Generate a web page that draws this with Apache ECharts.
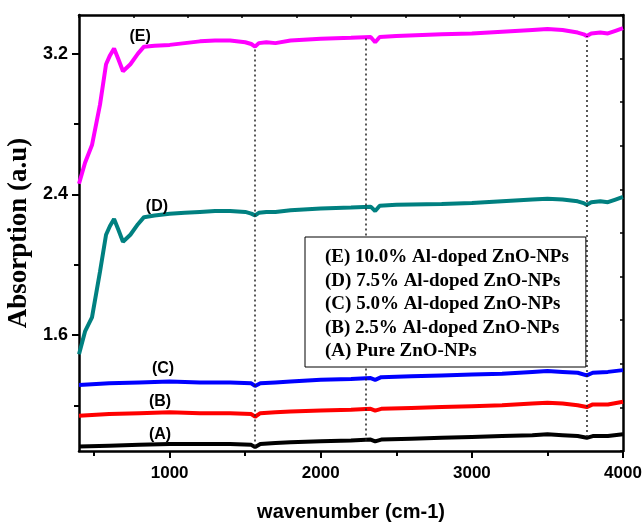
<!DOCTYPE html>
<html>
<head>
<meta charset="utf-8">
<script src="https://cdn.jsdelivr.net/npm/echarts@6/dist/echarts.min.js"></script>
<style>
  html, body { margin: 0; padding: 0; background: #fff; }
  #chart { width: 644px; height: 524px; }
</style>
</head>
<body>
<div id="chart"></div>
<script>
// wavenumber grid for the two upper curves (E, D)
var xHigh = [400, 440, 486, 539, 579, 605, 632, 660, 691, 740, 790, 830, 900, 1000, 1100, 1200, 1300, 1400, 1500, 1540, 1565, 1590, 1640, 1700, 1800, 2000, 2200, 2330, 2360, 2390, 2500, 2800, 3000, 3200, 3400, 3500, 3600, 3700, 3740, 3760, 3790, 3850, 3900, 3950, 4000];
var yE = [2.46, 2.58, 2.68, 2.91, 3.14, 3.19, 3.23, 3.17, 3.10, 3.14, 3.20, 3.24, 3.245, 3.25, 3.26, 3.27, 3.275, 3.275, 3.265, 3.255, 3.24, 3.26, 3.265, 3.26, 3.275, 3.285, 3.29, 3.295, 3.265, 3.295, 3.30, 3.31, 3.315, 3.325, 3.335, 3.34, 3.335, 3.32, 3.31, 3.30, 3.315, 3.32, 3.315, 3.33, 3.345];
var yD = [1.49, 1.62, 1.70, 1.96, 2.17, 2.22, 2.26, 2.20, 2.13, 2.17, 2.23, 2.27, 2.28, 2.29, 2.295, 2.30, 2.305, 2.305, 2.30, 2.29, 2.28, 2.295, 2.30, 2.30, 2.31, 2.32, 2.325, 2.33, 2.305, 2.335, 2.34, 2.345, 2.35, 2.36, 2.37, 2.375, 2.37, 2.36, 2.35, 2.34, 2.355, 2.36, 2.355, 2.37, 2.385];

// wavenumber grid for the three lower curves (C, B, A)
var xLow = [400, 600, 800, 1000, 1200, 1400, 1540, 1565, 1600, 1700, 1800, 2000, 2200, 2330, 2360, 2400, 2600, 2800, 3000, 3200, 3400, 3500, 3600, 3700, 3760, 3800, 3900, 4000];
var yC = [1.315, 1.325, 1.33, 1.335, 1.33, 1.33, 1.325, 1.31, 1.325, 1.33, 1.335, 1.345, 1.35, 1.355, 1.345, 1.36, 1.365, 1.37, 1.375, 1.38, 1.39, 1.395, 1.39, 1.385, 1.37, 1.385, 1.39, 1.40];
var yB = [1.14, 1.15, 1.155, 1.16, 1.155, 1.155, 1.15, 1.135, 1.155, 1.16, 1.165, 1.17, 1.175, 1.18, 1.17, 1.18, 1.185, 1.19, 1.195, 1.20, 1.21, 1.215, 1.21, 1.20, 1.19, 1.205, 1.205, 1.22];
var yA = [0.965, 0.97, 0.975, 0.98, 0.98, 0.98, 0.975, 0.962, 0.98, 0.985, 0.99, 0.995, 1.0, 1.005, 0.995, 1.005, 1.01, 1.015, 1.02, 1.025, 1.03, 1.035, 1.03, 1.025, 1.015, 1.025, 1.025, 1.035];

var seriesNames = ['(E) 10.0% Al-doped ZnO-NPs', '(D) 7.5% Al-doped ZnO-NPs', '(C) 5.0% Al-doped ZnO-NPs', '(B) 2.5% Al-doped ZnO-NPs', '(A) Pure ZnO-NPs'];
var seriesColors = ['#ff00ff', '#008080', '#0000ff', '#ff0000', '#000000'];

// curve tags (E)...(A): [wavenumber, absorption, text]
var curveTags = [[804, 3.30, '(E)'], [916, 2.33, '(D)'], [956, 1.41, '(C)'], [936, 1.22, '(B)'], [936, 1.035, '(A)']];

// dotted drop lines
var dropX = [1565, 2297, 3757];
var dropTop = [3.24, 3.29, 3.30];
var dropBottom = [0.965, 1.0, 1.02];

var xMajor = [1000, 2000, 3000, 4000];
var xMinor = [500, 1500, 2500, 3500];
var yMajor = [1.6, 2.4, 3.2];
var yMinor = [1.2, 2.0, 2.8];

var X_MIN = 400, X_MAX = 4000, Y_MIN = 0.94, Y_MAX = 3.42;

function zip(xs, ys) {
  return xs.map(function (x, i) { return [x, ys[i]]; });
}

var myChart = echarts.init(document.getElementById('chart'));
var sans = 'Liberation Sans';
var serif = 'Liberation Serif';

var dropLines = dropX.map(function (x, i) {
  return [{ coord: [x, dropBottom[i]] }, { coord: [x, dropTop[i]] }];
});

var ys = [yE, yD, yC, yB, yA];
var xs = [xHigh, xHigh, xLow, xLow, xLow];
var series = ys.map(function (y, i) {
  return {
    name: seriesNames[i],
    type: 'line',
    data: zip(xs[i], y),
    showSymbol: false,
    lineStyle: { color: seriesColors[i], width: 4 },
    itemStyle: { color: seriesColors[i] },
    z: 3
  };
});
series.push({
  name: 'drops',
  type: 'line',
  data: [],
  markLine: {
    silent: true,
    symbol: ['none', 'none'],
    label: { show: false },
    lineStyle: { type: [2, 3], color: '#222', width: 1.5 },
    data: dropLines
  },
  z: 2
});
series.push({
  name: 'tags',
  type: 'scatter',
  data: curveTags,
  symbolSize: 0,
  itemStyle: { color: '#000', opacity: 1 },
  label: {
    show: true,
    position: 'inside',
    formatter: function (p) { return p.value[2]; },
    color: '#000',
    textBorderWidth: 0,
    textBorderColor: 'transparent',
    fontFamily: sans,
    fontWeight: 'bold',
    fontSize: 16
  },
  z: 5
});

var option = {
  animation: false,
  backgroundColor: '#fff',
  grid: { left: 79, right: 21, top: 15, bottom: 73, containLabel: false, outerBoundsMode: 'none' },
  legend: {
    data: seriesNames,
    orient: 'vertical',
    left: 305,
    top: 237,
    z: 20,
    icon: 'none',
    itemWidth: 0,
    itemHeight: 14,
    itemGap: 4.5,
    padding: [11, 17, 6, 15],
    borderColor: '#000',
    borderWidth: 1,
    backgroundColor: '#fff',
    selectedMode: false,
    textStyle: { color: '#000', fontFamily: serif, fontWeight: 'bold', fontSize: 19, lineHeight: 19 }
  },
  xAxis: [
    {
      type: 'value', position: 'bottom', min: X_MIN, max: X_MAX,
      name: 'wavenumber (cm-1)', nameLocation: 'middle', nameGap: 51,
      nameTextStyle: { color: '#000', fontFamily: sans, fontWeight: 'bold', fontSize: 20 },
      axisLine: { show: true, onZero: false, lineStyle: { color: '#000', width: 2.5 } },
      axisTick: { show: true, inside: false, length: 7, customValues: xMajor, lineStyle: { color: '#000', width: 2 } },
      axisLabel: { show: true, margin: 14, customValues: xMajor, color: '#000', fontFamily: sans, fontWeight: 'bold', fontSize: 17, formatter: function (v) { return String(v); } },
      splitLine: { show: false }
    },
    {
      type: 'value', position: 'bottom', min: X_MIN, max: X_MAX,
      axisLine: { show: false, onZero: false },
      axisTick: { show: true, inside: false, length: 5, customValues: xMinor, lineStyle: { color: '#000', width: 2 } },
      axisLabel: { show: false },
      splitLine: { show: false }
    },
    {
      type: 'value', position: 'top', min: X_MIN, max: X_MAX, interval: 360,
      axisLine: { show: true, onZero: false, lineStyle: { color: '#000', width: 2.5 } },
      axisTick: { show: true, inside: true, length: 3, lineStyle: { color: '#000', width: 1.5 } },
      axisLabel: { show: false },
      splitLine: { show: false }
    }
  ],
  yAxis: [
    {
      type: 'value', position: 'left', min: Y_MIN, max: Y_MAX,
      name: 'Absorption (a.u)', nameLocation: 'middle', nameGap: 44,
      nameTextStyle: { color: '#000', fontFamily: serif, fontWeight: 'bold', fontSize: 27 },
      axisLine: { show: true, onZero: false, lineStyle: { color: '#000', width: 2.5 } },
      axisTick: { show: true, inside: false, length: 7, customValues: yMajor, lineStyle: { color: '#000', width: 2 } },
      axisLabel: { show: true, margin: 11, customValues: yMajor, color: '#000', fontFamily: sans, fontWeight: 'bold', fontSize: 18, formatter: function (v) { return v.toFixed(1); } },
      splitLine: { show: false }
    },
    {
      type: 'value', position: 'left', min: Y_MIN, max: Y_MAX,
      axisLine: { show: false, onZero: false },
      axisTick: { show: true, inside: false, length: 5, customValues: yMinor, lineStyle: { color: '#000', width: 2 } },
      axisLabel: { show: false },
      splitLine: { show: false }
    },
    {
      type: 'value', position: 'right', min: Y_MIN, max: Y_MAX, interval: (Y_MAX - Y_MIN) / 10,
      axisLine: { show: true, onZero: false, lineStyle: { color: '#000', width: 2.5 } },
      axisTick: { show: true, inside: true, length: 3, lineStyle: { color: '#000', width: 1.5 } },
      axisLabel: { show: false },
      splitLine: { show: false }
    }
  ],
  series: series
};

option && myChart.setOption(option);
</script>
</body>
</html>
